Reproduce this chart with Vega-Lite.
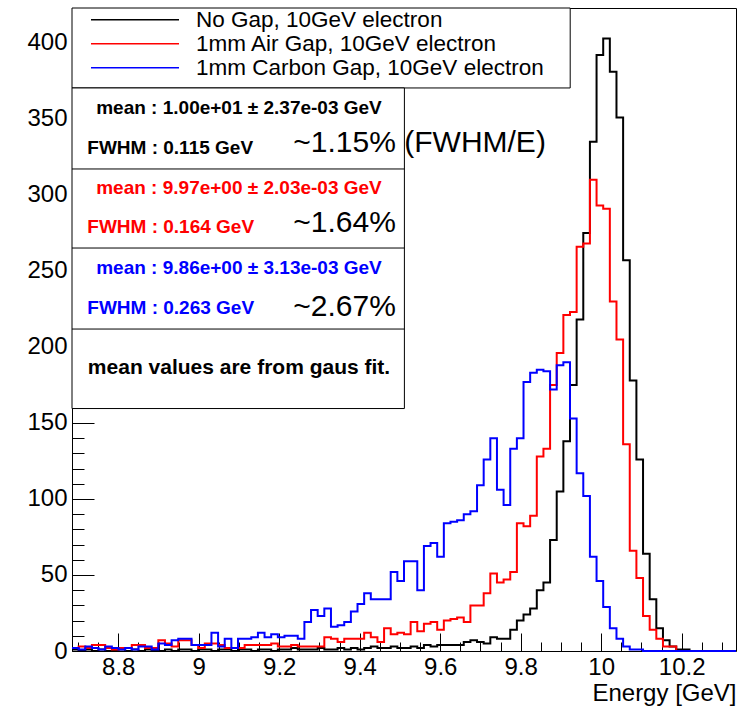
{
  "$schema": "https://vega.github.io/schema/vega-lite/v6.json",
  "width": 664,
  "height": 643,
  "autosize": {"type": "none"},
  "padding": {"left": 72, "top": 8, "right": 2, "bottom": 60},
  "background": "white",
  "config": {
    "view": {"stroke": "#000000", "strokeWidth": 1},
    "font": "Liberation Sans",
    "text": {"font": "Liberation Sans"}
  },
  "resolve": {"axis": {"x": "independent", "y": "independent"}},
  "layer": [
    {
      "data": {"values": [{}]},
      "mark": {"type": "rect", "fill": "white", "stroke": "#000000", "strokeWidth": 1},
      "encoding": {
        "x": {"datum": 8.685, "type": "quantitative",
          "axis": {"orient": "bottom", "values": [8.7,8.75,8.8,8.85,8.9,8.95,9,9.05,9.1,9.15,9.2,9.25,9.3,9.35,9.4,9.45,9.5,9.55,9.6,9.65,9.7,9.75,9.8,9.85,9.9,9.95,10,10.05,10.1,10.15,10.2,10.25,10.3],
            "labels": false, "domain": false, "grid": false, "title": null, "tickSize": -9, "tickColor": "#000000", "tickWidth": 1}},
        "x2": {"datum": 9.923},
        "y": {"datum": 370.4, "type": "quantitative",
          "axis": {"orient": "left", "values": [0,10,20,30,40,50,60,70,80,90,100,110,120,130,140,150,160,170,180,190,200,210,220,230,240,250,260,270,280,290,300,310,320,330,340,350,360,370,380,390,400,410,420],
            "labels": false, "domain": false, "grid": false, "title": null, "tickSize": -12, "tickColor": "#000000", "tickWidth": 1}},
        "y2": {"datum": 423}
      }
    },
    {
      "data": {"values": [{}]},
      "mark": {"type": "rect", "fill": "white", "stroke": "#000000", "strokeWidth": 1},
      "encoding": {
        "x": {"datum": 8.685, "type": "quantitative", "axis": null},
        "x2": {"datum": 9.511},
        "y": {"datum": 159.5, "type": "quantitative", "axis": null},
        "y2": {"datum": 370.4}
      }
    },
    {
      "data": {"values": [{}]},
      "mark": {"type": "rule", "color": "#000000", "strokeWidth": 1},
      "encoding": {
        "x": {"datum": 8.685, "type": "quantitative", "axis": null},
        "x2": {"datum": 9.511},
        "y": {"datum": 317.1, "type": "quantitative", "axis": null}
      }
    },
    {
      "data": {"values": [{}]},
      "mark": {"type": "rule", "color": "#000000", "strokeWidth": 1},
      "encoding": {
        "x": {"datum": 8.685, "type": "quantitative", "axis": null},
        "x2": {"datum": 9.511},
        "y": {"datum": 265.1, "type": "quantitative", "axis": null}
      }
    },
    {
      "data": {"values": [{}]},
      "mark": {"type": "rule", "color": "#000000", "strokeWidth": 1},
      "encoding": {
        "x": {"datum": 8.685, "type": "quantitative", "axis": null},
        "x2": {"datum": 9.511},
        "y": {"datum": 211.8, "type": "quantitative", "axis": null}
      }
    },
    {
      "data": {"values": [{}]},
      "mark": {"type": "text", "text": "mean : 1.00e+01 ± 2.37e-03 GeV", "fontSize": 19, "fontWeight": "bold", "align": "center", "baseline": "middle", "color": "#000000"},
      "encoding": {
        "x": {"datum": 9.1, "type": "quantitative", "axis": null},
        "y": {"datum": 357.2, "type": "quantitative", "axis": null}
      }
    },
    {
      "data": {"values": [{}]},
      "mark": {"type": "text", "text": "FWHM : 0.115 GeV", "fontSize": 19, "fontWeight": "bold", "align": "left", "baseline": "middle", "color": "#000000"},
      "encoding": {
        "x": {"datum": 8.723, "type": "quantitative", "axis": null},
        "y": {"datum": 330.9, "type": "quantitative", "axis": null}
      }
    },
    {
      "data": {"values": [{}]},
      "mark": {"type": "text", "text": "~1.15% (FWHM/E)", "fontSize": 30, "align": "left", "baseline": "middle", "color": "#000000"},
      "encoding": {
        "x": {"datum": 9.235, "type": "quantitative", "axis": null},
        "y": {"datum": 334.2, "type": "quantitative", "axis": null}
      }
    },
    {
      "data": {"values": [{}]},
      "mark": {"type": "text", "text": "mean : 9.97e+00 ± 2.03e-03 GeV", "fontSize": 19, "fontWeight": "bold", "align": "center", "baseline": "middle", "color": "#ff0000"},
      "encoding": {
        "x": {"datum": 9.1, "type": "quantitative", "axis": null},
        "y": {"datum": 304.6, "type": "quantitative", "axis": null}
      }
    },
    {
      "data": {"values": [{}]},
      "mark": {"type": "text", "text": "FWHM : 0.164 GeV", "fontSize": 19, "fontWeight": "bold", "align": "left", "baseline": "middle", "color": "#ff0000"},
      "encoding": {
        "x": {"datum": 8.723, "type": "quantitative", "axis": null},
        "y": {"datum": 278.9, "type": "quantitative", "axis": null}
      }
    },
    {
      "data": {"values": [{}]},
      "mark": {"type": "text", "text": "~1.64%", "fontSize": 30, "align": "left", "baseline": "middle", "color": "#000000"},
      "encoding": {
        "x": {"datum": 9.235, "type": "quantitative", "axis": null},
        "y": {"datum": 281.6, "type": "quantitative", "axis": null}
      }
    },
    {
      "data": {"values": [{}]},
      "mark": {"type": "text", "text": "mean : 9.86e+00 ± 3.13e-03 GeV", "fontSize": 19, "fontWeight": "bold", "align": "center", "baseline": "middle", "color": "#0000ff"},
      "encoding": {
        "x": {"datum": 9.1, "type": "quantitative", "axis": null},
        "y": {"datum": 252, "type": "quantitative", "axis": null}
      }
    },
    {
      "data": {"values": [{}]},
      "mark": {"type": "text", "text": "FWHM : 0.263 GeV", "fontSize": 19, "fontWeight": "bold", "align": "left", "baseline": "middle", "color": "#0000ff"},
      "encoding": {
        "x": {"datum": 8.723, "type": "quantitative", "axis": null},
        "y": {"datum": 225.7, "type": "quantitative", "axis": null}
      }
    },
    {
      "data": {"values": [{}]},
      "mark": {"type": "text", "text": "~2.67%", "fontSize": 30, "align": "left", "baseline": "middle", "color": "#000000"},
      "encoding": {
        "x": {"datum": 9.235, "type": "quantitative", "axis": null},
        "y": {"datum": 226.3, "type": "quantitative", "axis": null}
      }
    },
    {
      "data": {"values": [{}]},
      "mark": {"type": "text", "text": "mean values are from gaus fit.", "fontSize": 21, "fontWeight": "bold", "align": "center", "baseline": "middle", "color": "#000000"},
      "encoding": {
        "x": {"datum": 9.1, "type": "quantitative", "axis": null},
        "y": {"datum": 186.2, "type": "quantitative", "axis": null}
      }
    },
    {
      "data": {"values": [
        {"E": 8.685, "NoGap": 1, "AirGap": 2, "CarbonGap": 2},
        {"E": 8.7015, "NoGap": 0, "AirGap": 3, "CarbonGap": 1},
        {"E": 8.718, "NoGap": 1, "AirGap": 2, "CarbonGap": 3},
        {"E": 8.7345, "NoGap": 0, "AirGap": 4, "CarbonGap": 2},
        {"E": 8.751, "NoGap": 1, "AirGap": 4, "CarbonGap": 1},
        {"E": 8.7675, "NoGap": 0, "AirGap": 2, "CarbonGap": 3},
        {"E": 8.784, "NoGap": 0, "AirGap": 1, "CarbonGap": 2},
        {"E": 8.8005, "NoGap": 1, "AirGap": 2, "CarbonGap": 1},
        {"E": 8.817, "NoGap": 0, "AirGap": 2, "CarbonGap": 2},
        {"E": 8.8335, "NoGap": 1, "AirGap": 4, "CarbonGap": 1},
        {"E": 8.85, "NoGap": 0, "AirGap": 4, "CarbonGap": 3},
        {"E": 8.8665, "NoGap": 1, "AirGap": 2, "CarbonGap": 3},
        {"E": 8.883, "NoGap": 0, "AirGap": 2, "CarbonGap": 1},
        {"E": 8.8995, "NoGap": 0, "AirGap": 7, "CarbonGap": 5},
        {"E": 8.916, "NoGap": 1, "AirGap": 5, "CarbonGap": 4},
        {"E": 8.9325, "NoGap": 0, "AirGap": 3, "CarbonGap": 7},
        {"E": 8.949, "NoGap": 1, "AirGap": 7, "CarbonGap": 8},
        {"E": 8.9655, "NoGap": 1, "AirGap": 7, "CarbonGap": 8},
        {"E": 8.982, "NoGap": 0, "AirGap": 4, "CarbonGap": 4},
        {"E": 8.9985, "NoGap": 1, "AirGap": 2, "CarbonGap": 4},
        {"E": 9.015, "NoGap": 1, "AirGap": 5, "CarbonGap": 4},
        {"E": 9.0315, "NoGap": 0, "AirGap": 5, "CarbonGap": 12},
        {"E": 9.048, "NoGap": 1, "AirGap": 4, "CarbonGap": 3},
        {"E": 9.0645, "NoGap": 1, "AirGap": 2, "CarbonGap": 8},
        {"E": 9.081, "NoGap": 0, "AirGap": 2, "CarbonGap": 2},
        {"E": 9.0975, "NoGap": 1, "AirGap": 2, "CarbonGap": 8},
        {"E": 9.114, "NoGap": 1, "AirGap": 4, "CarbonGap": 8},
        {"E": 9.1305, "NoGap": 0, "AirGap": 4, "CarbonGap": 9},
        {"E": 9.147, "NoGap": 1, "AirGap": 4, "CarbonGap": 12},
        {"E": 9.1635, "NoGap": 1, "AirGap": 4, "CarbonGap": 9},
        {"E": 9.18, "NoGap": 0, "AirGap": 5, "CarbonGap": 11},
        {"E": 9.1965, "NoGap": 1, "AirGap": 3, "CarbonGap": 9},
        {"E": 9.213, "NoGap": 1, "AirGap": 3, "CarbonGap": 10},
        {"E": 9.2295, "NoGap": 2, "AirGap": 4, "CarbonGap": 10},
        {"E": 9.246, "NoGap": 1, "AirGap": 3, "CarbonGap": 8},
        {"E": 9.2625, "NoGap": 1, "AirGap": 3, "CarbonGap": 19},
        {"E": 9.279, "NoGap": 1, "AirGap": 3, "CarbonGap": 27},
        {"E": 9.2955, "NoGap": 2, "AirGap": 3, "CarbonGap": 23},
        {"E": 9.312, "NoGap": 1, "AirGap": 9, "CarbonGap": 28},
        {"E": 9.3285, "NoGap": 1, "AirGap": 8, "CarbonGap": 16},
        {"E": 9.345, "NoGap": 2, "AirGap": 6, "CarbonGap": 17},
        {"E": 9.3615, "NoGap": 1, "AirGap": 8, "CarbonGap": 19},
        {"E": 9.378, "NoGap": 2, "AirGap": 8, "CarbonGap": 26},
        {"E": 9.3945, "NoGap": 1, "AirGap": 8, "CarbonGap": 31},
        {"E": 9.411, "NoGap": 2, "AirGap": 12, "CarbonGap": 38},
        {"E": 9.4275, "NoGap": 3, "AirGap": 9, "CarbonGap": 34},
        {"E": 9.444, "NoGap": 2, "AirGap": 6, "CarbonGap": 34},
        {"E": 9.4605, "NoGap": 2, "AirGap": 15, "CarbonGap": 34},
        {"E": 9.477, "NoGap": 3, "AirGap": 11, "CarbonGap": 52},
        {"E": 9.4935, "NoGap": 2, "AirGap": 12, "CarbonGap": 46},
        {"E": 9.51, "NoGap": 2, "AirGap": 11, "CarbonGap": 59},
        {"E": 9.5265, "NoGap": 3, "AirGap": 19, "CarbonGap": 59},
        {"E": 9.543, "NoGap": 2, "AirGap": 13, "CarbonGap": 40},
        {"E": 9.5595, "NoGap": 4, "AirGap": 18, "CarbonGap": 69},
        {"E": 9.576, "NoGap": 3, "AirGap": 19, "CarbonGap": 71},
        {"E": 9.5925, "NoGap": 4, "AirGap": 14, "CarbonGap": 62},
        {"E": 9.609, "NoGap": 4, "AirGap": 20, "CarbonGap": 84},
        {"E": 9.6255, "NoGap": 4, "AirGap": 21, "CarbonGap": 85},
        {"E": 9.642, "NoGap": 4, "AirGap": 22, "CarbonGap": 86},
        {"E": 9.6585, "NoGap": 6, "AirGap": 19, "CarbonGap": 90},
        {"E": 9.675, "NoGap": 7, "AirGap": 30, "CarbonGap": 92},
        {"E": 9.6915, "NoGap": 6, "AirGap": 30, "CarbonGap": 109},
        {"E": 9.708, "NoGap": 5, "AirGap": 38, "CarbonGap": 126},
        {"E": 9.7245, "NoGap": 9, "AirGap": 51, "CarbonGap": 140},
        {"E": 9.741, "NoGap": 8, "AirGap": 45, "CarbonGap": 106},
        {"E": 9.7575, "NoGap": 8, "AirGap": 47, "CarbonGap": 96},
        {"E": 9.774, "NoGap": 14, "AirGap": 52, "CarbonGap": 133},
        {"E": 9.7905, "NoGap": 20, "AirGap": 84, "CarbonGap": 140},
        {"E": 9.807, "NoGap": 24, "AirGap": 82, "CarbonGap": 177},
        {"E": 9.8235, "NoGap": 28, "AirGap": 89, "CarbonGap": 183},
        {"E": 9.84, "NoGap": 40, "AirGap": 128, "CarbonGap": 185},
        {"E": 9.8565, "NoGap": 45, "AirGap": 133, "CarbonGap": 184},
        {"E": 9.873, "NoGap": 73, "AirGap": 175, "CarbonGap": 172},
        {"E": 9.8895, "NoGap": 105, "AirGap": 196, "CarbonGap": 188},
        {"E": 9.906, "NoGap": 138, "AirGap": 221, "CarbonGap": 190},
        {"E": 9.9225, "NoGap": 175, "AirGap": 223, "CarbonGap": 153},
        {"E": 9.939, "NoGap": 218, "AirGap": 266, "CarbonGap": 117},
        {"E": 9.9555, "NoGap": 275, "AirGap": 268, "CarbonGap": 102},
        {"E": 9.972, "NoGap": 335, "AirGap": 310, "CarbonGap": 62},
        {"E": 9.9885, "NoGap": 392, "AirGap": 293, "CarbonGap": 46},
        {"E": 10.005, "NoGap": 403, "AirGap": 291, "CarbonGap": 29},
        {"E": 10.0215, "NoGap": 381, "AirGap": 230, "CarbonGap": 15},
        {"E": 10.038, "NoGap": 351, "AirGap": 205, "CarbonGap": 8},
        {"E": 10.0545, "NoGap": 257, "AirGap": 136, "CarbonGap": 3},
        {"E": 10.071, "NoGap": 178, "AirGap": 66, "CarbonGap": 1},
        {"E": 10.0875, "NoGap": 126, "AirGap": 48, "CarbonGap": 1},
        {"E": 10.104, "NoGap": 64, "AirGap": 23, "CarbonGap": 0},
        {"E": 10.1205, "NoGap": 34, "AirGap": 14, "CarbonGap": 0},
        {"E": 10.137, "NoGap": 15, "AirGap": 8, "CarbonGap": 0},
        {"E": 10.1535, "NoGap": 7, "AirGap": 3, "CarbonGap": 0},
        {"E": 10.17, "NoGap": 3, "AirGap": 3, "CarbonGap": 0},
        {"E": 10.1865, "NoGap": 1, "AirGap": 0, "CarbonGap": 0},
        {"E": 10.203, "NoGap": 1, "AirGap": 0, "CarbonGap": 0},
        {"E": 10.2195, "NoGap": 0, "AirGap": 0, "CarbonGap": 0},
        {"E": 10.236, "NoGap": 0, "AirGap": 0, "CarbonGap": 0},
        {"E": 10.2525, "NoGap": 0, "AirGap": 0, "CarbonGap": 0},
        {"E": 10.269, "NoGap": 0, "AirGap": 0, "CarbonGap": 0},
        {"E": 10.2855, "NoGap": 0, "AirGap": 0, "CarbonGap": 0},
        {"E": 10.302, "NoGap": 0, "AirGap": 0, "CarbonGap": 0},
        {"E": 10.3185, "NoGap": 0, "AirGap": 0, "CarbonGap": 0},
        {"E": 10.335, "NoGap": 0, "AirGap": 0, "CarbonGap": 0}
      ]},
      "transform": [
        {"fold": ["NoGap", "AirGap", "CarbonGap"], "as": ["series", "count"]}
      ],
      "mark": {"type": "line", "interpolate": "step-after", "strokeWidth": 2},
      "encoding": {
        "x": {"field": "E", "type": "quantitative",
          "scale": {"domain": [8.685, 10.335], "nice": false, "zero": false},
          "axis": {"orient": "bottom", "values": [8.8, 9, 9.2, 9.4, 9.6, 9.8, 10, 10.2], "format": ".1~f",
            "labelFontSize": 24, "labelFont": "Liberation Sans", "labelColor": "#000000", "labelPadding": 22,
            "tickSize": -18, "tickColor": "#000000", "tickWidth": 1, "domain": false, "grid": false,
            "title": "Energy [GeV]", "titleAnchor": "end", "titleFontSize": 24, "titleFontWeight": "normal",
            "titleFont": "Liberation Sans", "titleColor": "#000000", "titlePadding": 2}},
        "y": {"field": "count", "type": "quantitative",
          "scale": {"domain": [0, 423], "nice": false, "zero": true},
          "axis": {"orient": "left", "values": [0, 50, 100, 150, 200, 250, 300, 350, 400],
            "labelFontSize": 24, "labelFont": "Liberation Sans", "labelColor": "#000000", "labelPadding": 27,
            "tickSize": -22, "tickColor": "#000000", "tickWidth": 1, "domain": false, "grid": false, "title": null}},
        "color": {"field": "series", "type": "nominal",
          "scale": {"domain": ["NoGap", "AirGap", "CarbonGap"], "range": ["#000000", "#ff0000", "#0000ff"]},
          "legend": {"orient": "none", "legendX": 0, "legendY": 0, "title": null, "padding": 0,
            "symbolType": "stroke", "symbolSize": 7744, "symbolStrokeWidth": 1.5, "symbolOffset": 18,
            "clipHeight": 23.5, "rowPadding": 0, "labelOffset": 16, "labelLimit": 600,
            "labelFontSize": 22.5, "labelFont": "Liberation Sans", "labelColor": "#000000",
            "labelExpr": "datum.value == 'NoGap' ? 'No Gap, 10GeV electron' : datum.value == 'AirGap' ? '1mm Air Gap, 10GeV electron' : '1mm Carbon Gap, 10GeV electron'"}}
      }
    }
  ]
}
